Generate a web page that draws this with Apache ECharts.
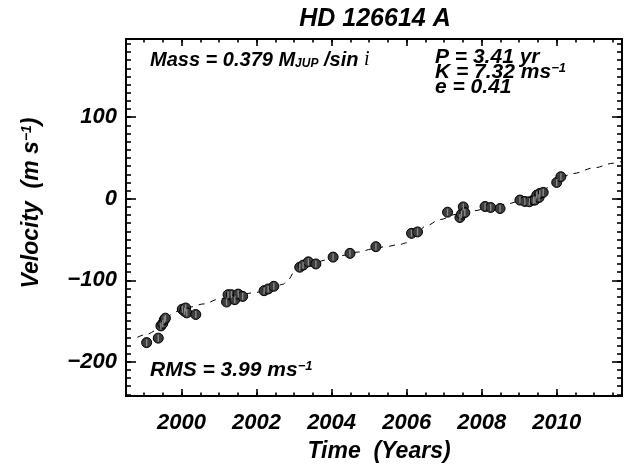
<!DOCTYPE html>
<html><head><meta charset="utf-8">
<script src="https://cdn.jsdelivr.net/npm/echarts@6/dist/echarts.min.js"></script>
<style>html,body{margin:0;padding:0;background:#fff}#c{width:639px;height:470px}</style>
</head><body><div id="c"></div>
<script>
// ---- data ----
const obsYear = [1999.07, 1999.38, 1999.45, 1999.50, 1999.54, 1999.57,
  2000.02, 2000.08, 2000.11, 2000.14, 2000.38,
  2001.20, 2001.24, 2001.33, 2001.42, 2001.51, 2001.63,
  2002.20, 2002.31, 2002.46,
  2003.15, 2003.24, 2003.38, 2003.58,
  2004.04, 2004.49, 2005.18, 2006.13, 2006.29,
  2007.09, 2007.42, 2007.46, 2007.51, 2007.55,
  2008.09, 2008.24, 2008.49,
  2009.02, 2009.15, 2009.27, 2009.38, 2009.42, 2009.47, 2009.53, 2009.55, 2009.64,
  2010.00, 2010.11];
const obsVel = [-176.5, -171, -156, -153, -148.5, -146.5,
  -135.5, -138, -134, -140, -142,
  -126.7, -117.7, -117.7, -123.8, -117, -119.8,
  -112.8, -110.7, -107.4,
  -84, -81.5, -77.4, -80,
  -71.6, -67, -58.8, -42.4, -40.7,
  -16.5, -23, -19, -10, -17,
  -9.5, -10.7, -12,
  -1.6, -3.3, -3.7, -1.6, -1.6, 4.5, 1.6, 6.5, 7.8,
  20, 27];
const modelYear = [1998.82, 1999.10, 1999.30, 1999.45, 1999.60, 1999.75, 1999.90, 2000.20, 2000.60,
  2001.00, 2001.50, 2001.91, 2002.40, 2002.70, 2002.85, 2003.00, 2003.20,
  2003.50, 2003.87, 2004.30, 2004.71, 2005.10, 2005.47, 2005.82, 2006.00, 2006.12,
  2006.25, 2006.53, 2006.89, 2007.33, 2007.78, 2008.30, 2008.67, 2009.00, 2009.30,
  2009.55, 2009.73, 2009.90, 2010.05, 2010.44, 2011.00, 2011.51, 2011.74];
const modelVel = [-170, -166, -162, -155, -147, -141, -138, -133, -129,
  -123, -118, -115.5, -110, -105, -99, -90, -83,
  -79, -75, -69.5, -65.4, -61.5, -58.5, -56, -54, -48,
  -42, -33, -25.5, -19, -14.8, -9.5, -6.5, -3, 1,
  6, 13, 20, 25, 31, 38, 43.6, 46];
const xTickYears = [2000, 2002, 2004, 2006, 2008, 2010];
const yTickVels = [-200, -100, 0, 100];
const xRange = [1998.52, 2011.74];
const yRange = [-242, 196];

// ---- chart ----
const FONT = "'Liberation Sans', Arial, Helvetica, sans-serif";
const xMinor = []; for (let v = 1999; v <= 2011.5; v += 0.5) xMinor.push(v);
const yMinor = []; for (let v = -240; v <= 190; v += 10) yMinor.push(v);

function xAxisDef(pos, ticks, len, labels) {
  return {
    type: 'value', position: pos, min: xRange[0], max: xRange[1],
    axisLine: { show: true, onZero: false, lineStyle: { color: '#000', width: 2 } },
    axisTick: { show: true, inside: true, length: len, customValues: ticks, lineStyle: { color: '#000', width: 1.6 } },
    axisLabel: labels ? { show: true, customValues: ticks, margin: 16, color: '#000',
      fontFamily: FONT, fontWeight: 'bold', fontStyle: 'italic', fontSize: 22,
      formatter: v => String(Math.round(v)) } : { show: false },
    splitLine: { show: false }
  };
}
function yAxisDef(pos, ticks, len, labels) {
  return {
    type: 'value', position: pos, min: yRange[0], max: yRange[1],
    axisLine: { show: true, onZero: false, lineStyle: { color: '#000', width: 2 } },
    axisTick: { show: true, inside: true, length: len, customValues: ticks, lineStyle: { color: '#000', width: 1.6 } },
    axisLabel: labels ? { show: true, customValues: ticks, margin: 9, color: '#000',
      fontFamily: FONT, fontWeight: 'bold', fontStyle: 'italic', fontSize: 22,
      formatter: v => String(Math.round(v)).replace('-', '\u2212') } : { show: false },
    splitLine: { show: false }
  };
}

const obsData = obsYear.map((y, i) => [y, obsVel[i]]);
const modelData = modelYear.map((y, i) => [y, modelVel[i]]);

const txt = { fontFamily: FONT, fontWeight: 'bold', fontStyle: 'italic', fill: '#000', color: '#000' };
function rich(fs) {
  return {
    m: Object.assign({}, txt, { fontSize: fs, lineHeight: fs }),
    sup: Object.assign({}, txt, { fontSize: Math.round(fs * 0.62), lineHeight: Math.round(fs * 0.62), verticalAlign: 'top' }),
    sub: Object.assign({}, txt, { fontSize: Math.round(fs * 0.6), lineHeight: Math.round(fs * 0.6), verticalAlign: 'bottom' }),
    it: { fontFamily: "'Liberation Serif', 'Times New Roman', serif", fontStyle: 'italic', fontWeight: 'normal', fontSize: fs, lineHeight: fs, fill: '#000', color: '#000' }
  };
}
function label(x, y, text, fs) {
  return {
    type: 'text', x: x, y: y, z: 100,
    style: { text: text, rich: rich(fs), verticalAlign: 'top', align: 'left',
      fontFamily: FONT, fontWeight: 'bold', fontStyle: 'italic', fontSize: fs, fill: '#000' }
  };
}

const chart = echarts.init(document.getElementById('c'), null, { renderer: 'canvas' });
chart.setOption({
  animation: false,
  backgroundColor: '#fff',
  grid: { left: 126, right: 17, top: 39, bottom: 74 },
  xAxis: [
    xAxisDef('bottom', xTickYears, 7, true),
    xAxisDef('bottom', xMinor, 3.5, false),
    xAxisDef('top', xTickYears, 7, false),
    xAxisDef('top', xMinor, 3.5, false)
  ],
  yAxis: [
    yAxisDef('left', yTickVels, 10, true),
    yAxisDef('left', yMinor, 5, false),
    yAxisDef('right', yTickVels, 10, false),
    yAxisDef('right', yMinor, 5, false)
  ],
  series: [
    { type: 'line', data: modelData, showSymbol: false, smooth: 0.35, smoothMonotone: 'x',
      lineStyle: { color: '#000', width: 1, type: [6, 6] }, z: 2 },
    { type: 'scatter', data: obsData, symbol: 'circle', symbolSize: 10,
      itemStyle: { color: '#3c3c3c', borderColor: '#000', borderWidth: 1, opacity: 1 }, z: 3 },
    { type: 'scatter', data: obsData, symbol: 'rect', symbolSize: [1.4, 7],
      itemStyle: { color: '#8a8a8a', opacity: 1 }, z: 4, silent: true }
  ],
  graphic: [
    { type: 'text', x: 375, y: 19, z: 100,
      style: { text: 'HD 126614 A', align: 'center', verticalAlign: 'middle', fontFamily: FONT,
        fontWeight: 'bold', fontStyle: 'italic', fontSize: 25, fill: '#000' } },
    label(150, 50, '{m|Mass = 0.379 M}{sub|JUP}{m| /sin }{it|i}', 20),
    label(435, 47, '{m|P = 3.41 yr}', 21),
    label(435, 62, '{m|K = 7.32 ms}{sup|\u22121}', 21),
    label(435, 77, '{m|e = 0.41}', 21),
    label(150, 360, '{m|RMS = 3.99 ms}{sup|\u22121}', 21),
    { type: 'text', x: 379, y: 452, z: 100,
      style: { text: 'Time  (Years)', align: 'center', verticalAlign: 'middle', fontFamily: FONT,
        fontWeight: 'bold', fontStyle: 'italic', fontSize: 23, fill: '#000' } },
    { type: 'text', x: 32, y: 203, rotation: Math.PI / 2, z: 100,
      style: { text: '{m|Velocity  (m s}{sup|\u22121}{m|)}', rich: rich(23), align: 'center', verticalAlign: 'middle',
        fontFamily: FONT, fontWeight: 'bold', fontStyle: 'italic', fontSize: 23, fill: '#000' } }
  ]
});
</script></body></html>
